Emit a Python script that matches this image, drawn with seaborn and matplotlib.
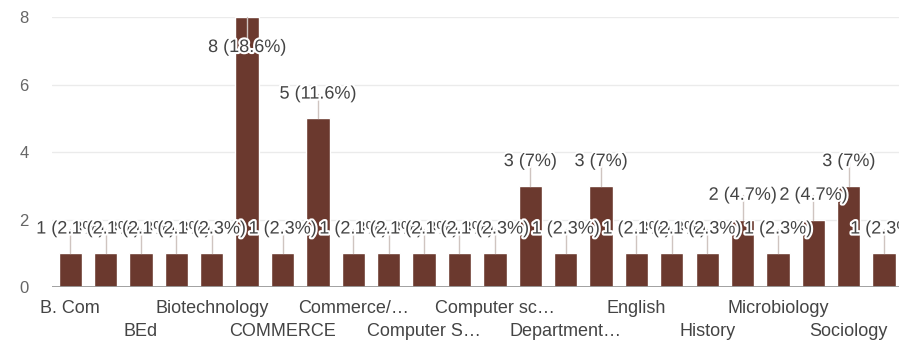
import matplotlib
matplotlib.use("Agg")
import matplotlib.pyplot as plt
import matplotlib.patheffects as pe
import seaborn as sns
import pandas as pd

# ---- data ----
positions = list(range(24))
values = [1, 1, 1, 1, 1, 8, 1, 5, 1, 1, 1, 1, 1, 3, 1, 3, 1, 1, 1, 2, 1, 2, 3, 1]
tick_positions = [0, 2, 4, 6, 8, 10, 12, 14, 16, 18, 20, 22]
tick_labels = ["B. Com", "BEd", "Biotechnology", "COMMERCE", "Commerce/…",
               "Computer S…", "Computer sc…", "Department…", "English",
               "History", "Microbiology", "Sociology"]
y_ticks = [0, 2, 4, 6, 8]

total = sum(values)
df = pd.DataFrame({"pos": positions, "count": values})

sns.set_theme(style="white")
plt.rcParams["font.family"] = ["Liberation Sans", "DejaVu Sans"]

fig = plt.figure(figsize=(8.99, 3.43), dpi=100)
ax = fig.add_axes([0.058, 0.163, 0.942, 0.787])

bar_color = "#6b392e"
sns.barplot(data=df, x="pos", y="count", color=bar_color, width=0.66,
            saturation=1, ax=ax, zorder=3)

ax.set_xlim(-0.51, 23.42)
ax.set_ylim(0, 8)
ax.set_yticks(y_ticks)
ax.set_yticklabels([str(v) for v in y_ticks])
ax.tick_params(axis="y", length=0, pad=17, labelsize=12, labelcolor="#666666")
ax.set_ylabel("")
ax.set_xlabel("")

for v in y_ticks[1:]:
    ax.axhline(v, color="#ebebeb", lw=1.0, zorder=0)
ax.axhline(0, color="#9a9a9a", lw=1.3, zorder=4)
for s in ax.spines.values():
    s.set_visible(False)

ax.set_xticks(tick_positions)
ax.set_xticklabels(tick_labels)
ax.tick_params(axis="x", length=0, labelsize=13, labelcolor="#444444")
for i, t in enumerate(ax.xaxis.get_major_ticks()):
    t.set_pad(9 if i % 2 == 0 else 26)

# value labels with leader lines
for x, v in zip(positions, values):
    pct = v / total * 100
    txt = f"{v} ({pct:.1f}%)" if abs(pct - round(pct)) > 0.05 else f"{v} ({pct:.0f}%)"
    ly = min(v + 0.72, 7.1)
    ax.plot([x, x], [v, ly], color="#cfc4c0", lw=1.0, zorder=5, clip_on=False)
    ax.text(x, ly, txt, ha="center", va="center", fontsize=13, color="#444444",
            zorder=6, clip_on=False,
            path_effects=[pe.withStroke(linewidth=3, foreground="white")])

fig.savefig("out.png", dpi=100)
